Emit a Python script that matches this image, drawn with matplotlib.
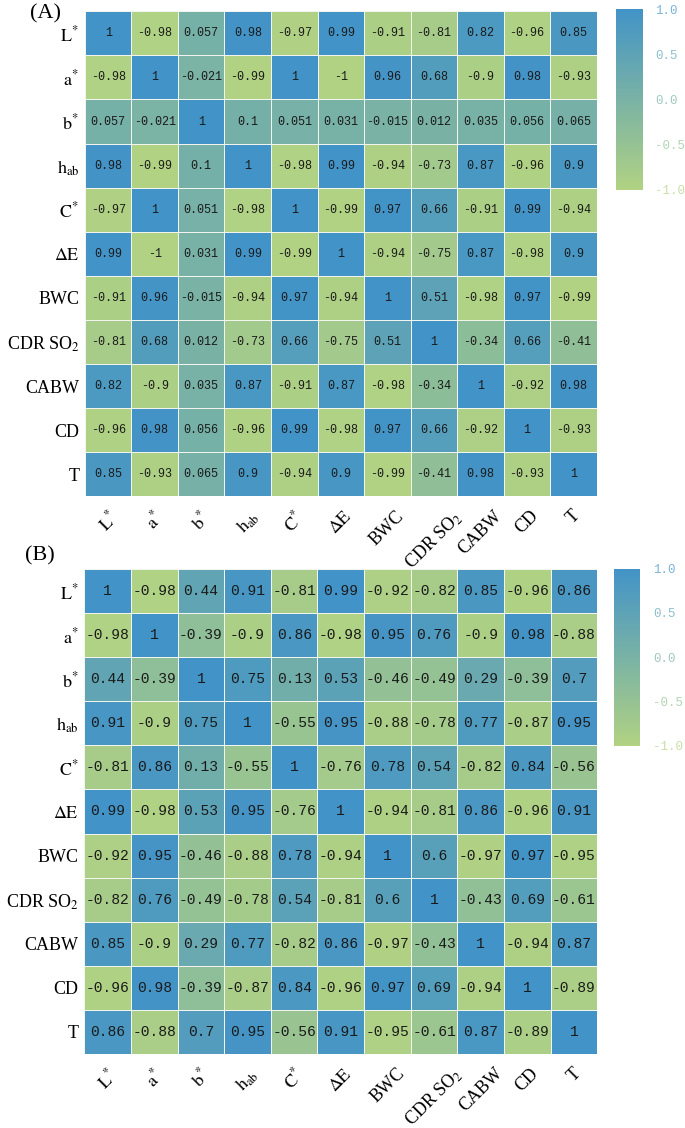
import numpy as np
import matplotlib
matplotlib.use("Agg")
from matplotlib import pyplot as plt
from matplotlib.colors import LinearSegmentedColormap, Normalize

plt.rcParams['font.family'] = ['Liberation Serif', 'DejaVu Serif']
plt.rcParams['mathtext.fontset'] = 'stix'

labels = [r'$\mathrm{L}^{\!*}$', r'$\mathrm{a}^{\!*}$', r'$\mathrm{b}^{\!*}$', r'$\mathrm{h}_{\mathrm{ab}}$',
          r'$\mathrm{C}^{\!*}$', r'$\Delta\mathrm{E}$', 'BWC', r'CDR SO$_2$', 'CABW', 'CD', 'T']

# correlation matrix, panel (A)
corr_a = np.array([
    [1, -0.98, 0.057, 0.98, -0.97, 0.99, -0.91, -0.81, 0.82, -0.96, 0.85],
    [-0.98, 1, -0.021, -0.99, 1, -1, 0.96, 0.68, -0.9, 0.98, -0.93],
    [0.057, -0.021, 1, 0.1, 0.051, 0.031, -0.015, 0.012, 0.035, 0.056, 0.065],
    [0.98, -0.99, 0.1, 1, -0.98, 0.99, -0.94, -0.73, 0.87, -0.96, 0.9],
    [-0.97, 1, 0.051, -0.98, 1, -0.99, 0.97, 0.66, -0.91, 0.99, -0.94],
    [0.99, -1, 0.031, 0.99, -0.99, 1, -0.94, -0.75, 0.87, -0.98, 0.9],
    [-0.91, 0.96, -0.015, -0.94, 0.97, -0.94, 1, 0.51, -0.98, 0.97, -0.99],
    [-0.81, 0.68, 0.012, -0.73, 0.66, -0.75, 0.51, 1, -0.34, 0.66, -0.41],
    [0.82, -0.9, 0.035, 0.87, -0.91, 0.87, -0.98, -0.34, 1, -0.92, 0.98],
    [-0.96, 0.98, 0.056, -0.96, 0.99, -0.98, 0.97, 0.66, -0.92, 1, -0.93],
    [0.85, -0.93, 0.065, 0.9, -0.94, 0.9, -0.99, -0.41, 0.98, -0.93, 1],
])

# correlation matrix, panel (B)
corr_b = np.array([
    [1, -0.98, 0.44, 0.91, -0.81, 0.99, -0.92, -0.82, 0.85, -0.96, 0.86],
    [-0.98, 1, -0.39, -0.9, 0.86, -0.98, 0.95, 0.76, -0.9, 0.98, -0.88],
    [0.44, -0.39, 1, 0.75, 0.13, 0.53, -0.46, -0.49, 0.29, -0.39, 0.7],
    [0.91, -0.9, 0.75, 1, -0.55, 0.95, -0.88, -0.78, 0.77, -0.87, 0.95],
    [-0.81, 0.86, 0.13, -0.55, 1, -0.76, 0.78, 0.54, -0.82, 0.84, -0.56],
    [0.99, -0.98, 0.53, 0.95, -0.76, 1, -0.94, -0.81, 0.86, -0.96, 0.91],
    [-0.92, 0.95, -0.46, -0.88, 0.78, -0.94, 1, 0.6, -0.97, 0.97, -0.95],
    [-0.82, 0.76, -0.49, -0.78, 0.54, -0.81, 0.6, 1, -0.43, 0.69, -0.61],
    [0.85, -0.9, 0.29, 0.77, -0.82, 0.86, -0.97, -0.43, 1, -0.94, 0.87],
    [-0.96, 0.98, -0.39, -0.87, 0.84, -0.96, 0.97, 0.69, -0.94, 1, -0.89],
    [0.86, -0.88, 0.7, 0.95, -0.56, 0.91, -0.95, -0.61, 0.87, -0.89, 1],
])

cmap = LinearSegmentedColormap.from_list('gb', ['#b1d283', '#4293c7'])
norm = Normalize(-1, 1)
cb_ticks = [-1, -0.5, 0, 0.5, 1]


def draw_panel(fig, corr, hm_rect, cb_rect, tag, tag_xy, fs):
    ax = fig.add_axes(hm_rect)
    n = corr.shape[0]
    mesh = ax.pcolormesh(corr, cmap=cmap, norm=norm,
                         edgecolor='#f2f5ee', linewidth=0.5)
    ax.set_xlim(0, n)
    ax.set_ylim(n, 0)
    for i in range(n):
        for j in range(n):
            ax.text(j + 0.5, i + 0.5, f'{corr[i, j]:g}', ha='center', va='center',
                    fontsize=fs, color='#1a1a1a', family='Liberation Mono')
    ax.set_xticks(np.arange(n) + 0.5)
    ax.set_yticks(np.arange(n) + 0.5)
    ax.set_xticklabels(labels, rotation=45, fontsize=13)
    ax.set_yticklabels(labels, fontsize=13)
    ax.tick_params(length=0, pad=4)
    ax.tick_params(axis='x', pad=8)
    for s in ax.spines.values():
        s.set_visible(False)

    cax = fig.add_axes(cb_rect)
    cb = fig.colorbar(mesh, cax=cax, ticks=cb_ticks)
    cb.outline.set_visible(False)
    cax.tick_params(length=0, pad=9, labelsize=9)
    cax.set_yticklabels(['-1.0', '-0.5', '0.0', '0.5', '1.0'], family='Liberation Mono')
    for t, v in zip(cax.get_yticklabels(), cb_ticks):
        t.set_color(cmap(norm(v)))
        t.set_alpha(0.7)

    fig.text(tag_xy[0], tag_xy[1], tag, fontsize=16, ha='left', va='center')


fig = plt.figure(figsize=(6.85, 11.28), dpi=100)

draw_panel(fig, corr_a, [0.124, 0.560, 0.747, 0.430], [0.899, 0.832, 0.039, 0.160],
           '(A)', (0.044, 0.988), 8.5)
draw_panel(fig, corr_b, [0.123, 0.0656, 0.749, 0.430], [0.896, 0.339, 0.039, 0.157],
           '(B)', (0.036, 0.507), 10.5)

fig.savefig('out.png', dpi=100)
